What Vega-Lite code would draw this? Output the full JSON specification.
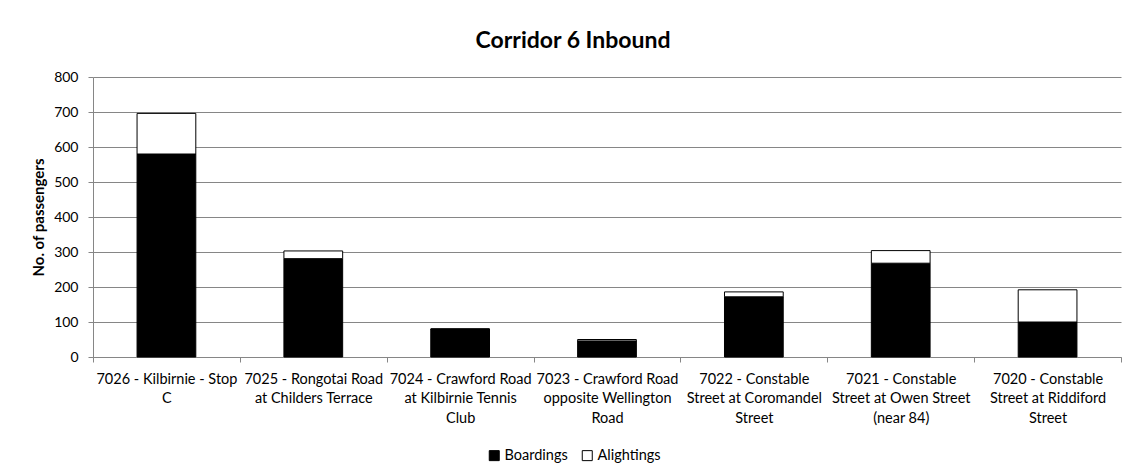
{
  "$schema": "https://vega.github.io/schema/vega-lite/v6.json",
  "width": 1028,
  "height": 280,
  "autosize": {"type": "none"},
  "padding": {"left": 93, "top": 77, "right": 7, "bottom": 115},
  "background": "white",
  "title": {
    "text": "Corridor 6 Inbound",
    "font": "Lato",
    "fontSize": 23,
    "fontWeight": "bold",
    "color": "black",
    "anchor": "middle",
    "dx": -34,
    "baseline": "alphabetic",
    "offset": -1
  },
  "data": {
    "values": [
      {"stop": "7026 - Kilbirnie - Stop C", "type": "Boardings", "k": 1, "n": 580},
      {"stop": "7026 - Kilbirnie - Stop C", "type": "Alightings", "k": 2, "n": 116},
      {"stop": "7025 - Rongotai Road at Childers Terrace", "type": "Boardings", "k": 1, "n": 281},
      {"stop": "7025 - Rongotai Road at Childers Terrace", "type": "Alightings", "k": 2, "n": 22},
      {"stop": "7024 - Crawford Road at Kilbirnie Tennis Club", "type": "Boardings", "k": 1, "n": 80},
      {"stop": "7024 - Crawford Road at Kilbirnie Tennis Club", "type": "Alightings", "k": 2, "n": 0},
      {"stop": "7023 - Crawford Road opposite Wellington Road", "type": "Boardings", "k": 1, "n": 46},
      {"stop": "7023 - Crawford Road opposite Wellington Road", "type": "Alightings", "k": 2, "n": 4},
      {"stop": "7022 - Constable Street at Coromandel Street", "type": "Boardings", "k": 1, "n": 172},
      {"stop": "7022 - Constable Street at Coromandel Street", "type": "Alightings", "k": 2, "n": 14},
      {"stop": "7021 - Constable Street at Owen Street (near 84)", "type": "Boardings", "k": 1, "n": 268},
      {"stop": "7021 - Constable Street at Owen Street (near 84)", "type": "Alightings", "k": 2, "n": 36},
      {"stop": "7020 - Constable Street at Riddiford Street", "type": "Boardings", "k": 1, "n": 100},
      {"stop": "7020 - Constable Street at Riddiford Street", "type": "Alightings", "k": 2, "n": 92}
    ]
  },
  "mark": {"type": "bar", "width": {"band": 0.4}, "stroke": "black", "strokeWidth": 1},
  "encoding": {
    "x": {
      "field": "stop",
      "type": "nominal",
      "sort": null,
      "scale": {"paddingInner": 0, "paddingOuter": 0},
      "axis": {
        "title": null,
        "labelAngle": 0,
        "labelFont": "Lato",
        "labelFontSize": 14.5,
        "labelColor": "black",
        "labelLineHeight": 19.5,
        "labelPadding": 10,
        "labelBaseline": "top",
        "labelLimit": 0,
        "tickBand": "extent",
        "tickSize": 5,
        "tickColor": "#868686",
        "domainColor": "#868686",
        "labelExpr": "({'7026 - Kilbirnie - Stop C': ['7026 - Kilbirnie - Stop', 'C'], '7025 - Rongotai Road at Childers Terrace': ['7025 - Rongotai Road', 'at Childers Terrace'], '7024 - Crawford Road at Kilbirnie Tennis Club': ['7024 - Crawford Road', 'at Kilbirnie Tennis', 'Club'], '7023 - Crawford Road opposite Wellington Road': ['7023 - Crawford Road', 'opposite Wellington', 'Road'], '7022 - Constable Street at Coromandel Street': ['7022 - Constable', 'Street at Coromandel', 'Street'], '7021 - Constable Street at Owen Street (near 84)': ['7021 - Constable', 'Street at Owen Street', '(near 84)'], '7020 - Constable Street at Riddiford Street': ['7020 - Constable', 'Street at Riddiford', 'Street']})[datum.label]"
      }
    },
    "y": {
      "field": "n",
      "type": "quantitative",
      "stack": "zero",
      "scale": {"domain": [0, 800], "nice": false},
      "axis": {
        "title": "No. of passengers",
        "titleFont": "Lato",
        "titleFontSize": 15,
        "titleFontWeight": "bold",
        "titleColor": "black",
        "titlePadding": 7,
        "values": [0, 100, 200, 300, 400, 500, 600, 700, 800],
        "labelFont": "Lato",
        "labelFontSize": 14,
        "labelColor": "black",
        "labelPadding": 10,
        "tickSize": 5,
        "tickColor": "#868686",
        "domainColor": "#868686",
        "grid": true,
        "gridColor": "#868686",
        "gridWidth": 1
      }
    },
    "color": {
      "field": "type",
      "type": "nominal",
      "scale": {"domain": ["Boardings", "Alightings"], "range": ["#000000", "#ffffff"]},
      "legend": {
        "title": null,
        "orient": "none",
        "direction": "horizontal",
        "legendX": 394,
        "legendY": 371,
        "padding": 0,
        "symbolType": "square",
        "symbolSize": 100,
        "symbolStrokeColor": "black",
        "symbolStrokeWidth": 1,
        "labelFont": "Lato",
        "labelFontSize": 14.5,
        "labelColor": "black",
        "labelOffset": 3,
        "columnPadding": 12
      }
    },
    "order": {"field": "k", "type": "quantitative"}
  },
  "config": {
    "view": {"stroke": null},
    "axis": {"labelFontWeight": "normal"}
  }
}
